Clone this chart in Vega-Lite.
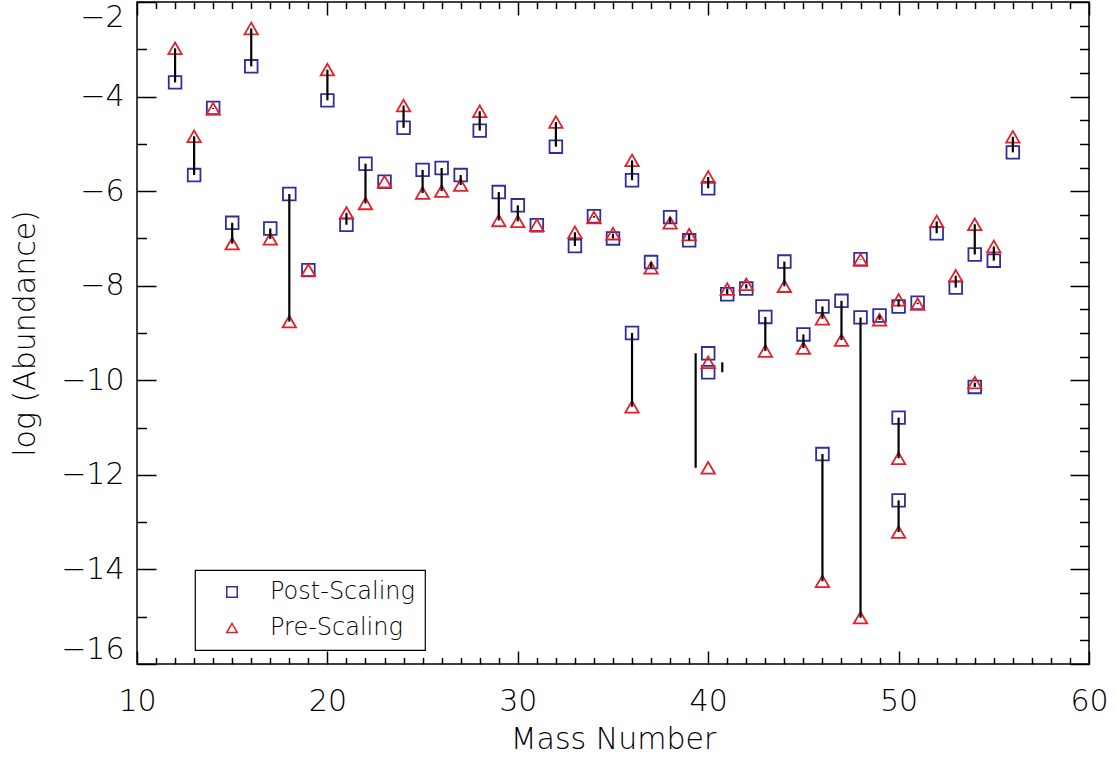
{
  "$schema": "https://vega.github.io/schema/vega-lite/v6.json",
  "width": 952,
  "height": 662,
  "autosize": {"type": "none"},
  "padding": {"left": 137, "top": 2, "right": 27, "bottom": 93},
  "background": "white",
  "config": {
    "view": {"stroke": "black", "strokeWidth": 1.5},
    "axis": {
      "domain": false,
      "grid": false,
      "tickColor": "black",
      "tickWidth": 1.5,
      "labelColor": "black",
      "labelFont": "DejaVu Sans",
      "labelFontSize": 30,
      "labelFontWeight": 200,
      "labelOverlap": false,
      "titleColor": "black",
      "titleFont": "DejaVu Sans",
      "titleFontSize": 30,
      "titleFontWeight": 200
    },
    "legend": {
      "orient": "none",
      "legendX": 58,
      "legendY": 568,
      "direction": "vertical",
      "strokeColor": "black",
      "strokeWidth": 1.2,
      "fillColor": "white",
      "padding": 10,
      "symbolOffset": 15,
      "labelOffset": 26,
      "symbolSize": 110,
      "symbolStrokeWidth": 1.5,
      "symbolFillColor": "transparent",
      "rowPadding": 12,
      "labelFont": "DejaVu Sans",
      "labelFontSize": 24,
      "labelFontWeight": 200,
      "labelColor": "black",
      "labelLimit": 400
    }
  },
  "datasets": {
    "abund": [
      {"A": 12, "post": -3.70, "pre": -2.98, "linkA": 12},
      {"A": 13, "post": -5.66, "pre": -4.84, "linkA": 13},
      {"A": 14, "post": -4.24, "pre": -4.26, "linkA": 14},
      {"A": 15, "post": -6.67, "pre": -7.11, "linkA": 15},
      {"A": 16, "post": -3.36, "pre": -2.56, "linkA": 16},
      {"A": 17, "post": -6.79, "pre": -7.01, "linkA": 17},
      {"A": 18, "post": -6.06, "pre": -8.76, "linkA": 18},
      {"A": 19, "post": -7.67, "pre": -7.67, "linkA": 19},
      {"A": 20, "post": -4.08, "pre": -3.43, "linkA": 20},
      {"A": 21, "post": -6.71, "pre": -6.46, "linkA": 21},
      {"A": 22, "post": -5.42, "pre": -6.26, "linkA": 22},
      {"A": 23, "post": -5.80, "pre": -5.80, "linkA": 23},
      {"A": 24, "post": -4.66, "pre": -4.19, "linkA": 24},
      {"A": 25, "post": -5.55, "pre": -6.04, "linkA": 25},
      {"A": 26, "post": -5.51, "pre": -6.00, "linkA": 26},
      {"A": 27, "post": -5.66, "pre": -5.87, "linkA": 27},
      {"A": 28, "post": -4.72, "pre": -4.31, "linkA": 28},
      {"A": 29, "post": -6.02, "pre": -6.62, "linkA": 29},
      {"A": 30, "post": -6.30, "pre": -6.64, "linkA": 30},
      {"A": 31, "post": -6.72, "pre": -6.72, "linkA": 31},
      {"A": 32, "post": -5.06, "pre": -4.54, "linkA": 32},
      {"A": 33, "post": -7.16, "pre": -6.87, "linkA": 33},
      {"A": 34, "post": -6.53, "pre": -6.56, "linkA": 34},
      {"A": 35, "post": -7.00, "pre": -6.90, "linkA": 35},
      {"A": 36, "post": -5.77, "pre": -5.35, "linkA": 36},
      {"A": 36, "post": -9.00, "pre": -10.56, "linkA": 36},
      {"A": 37, "post": -7.50, "pre": -7.62, "linkA": 37},
      {"A": 38, "post": -6.55, "pre": -6.67, "linkA": 38},
      {"A": 39, "post": -7.04, "pre": -6.92, "linkA": 39},
      {"A": 40, "post": -5.94, "pre": -5.70, "linkA": 40},
      {"A": 40, "post": -9.43, "pre": -11.85, "linkA": 39.34},
      {"A": 40, "post": -9.83, "pre": -9.62, "linkA": 40.74},
      {"A": 41, "post": -8.18, "pre": -8.07, "linkA": 41},
      {"A": 42, "post": -8.06, "pre": -7.97, "linkA": 42},
      {"A": 43, "post": -8.66, "pre": -9.38, "linkA": 43},
      {"A": 44, "post": -7.49, "pre": -8.01, "linkA": 44},
      {"A": 45, "post": -9.03, "pre": -9.32, "linkA": 45},
      {"A": 46, "post": -8.44, "pre": -8.70, "linkA": 46},
      {"A": 46, "post": -11.56, "pre": -14.25, "linkA": 46},
      {"A": 47, "post": -8.32, "pre": -9.15, "linkA": 47},
      {"A": 48, "post": -7.44, "pre": -7.45, "linkA": 48},
      {"A": 48, "post": -8.67, "pre": -15.02, "linkA": 48},
      {"A": 49, "post": -8.63, "pre": -8.72, "linkA": 49},
      {"A": 50, "post": -8.44, "pre": -8.30, "linkA": 50},
      {"A": 50, "post": -10.79, "pre": -11.65, "linkA": 50},
      {"A": 50, "post": -12.54, "pre": -13.21, "linkA": 50},
      {"A": 51, "post": -8.36, "pre": -8.39, "linkA": 51},
      {"A": 52, "post": -6.89, "pre": -6.64, "linkA": 52},
      {"A": 53, "post": -8.04, "pre": -7.79, "linkA": 53},
      {"A": 54, "post": -7.34, "pre": -6.70, "linkA": 54},
      {"A": 54, "post": -10.14, "pre": -10.05, "linkA": 54},
      {"A": 55, "post": -7.47, "pre": -7.17, "linkA": 55},
      {"A": 56, "post": -5.18, "pre": -4.85, "linkA": 56}
    ]
  },
  "data": {"name": "abund"},
  "resolve": {"axis": {"x": "independent", "y": "independent"}},
  "layer": [
    {
      "mark": {"type": "point", "shape": "square", "filled": false, "size": 160, "strokeWidth": 1.8, "opacity": 1},
      "encoding": {
        "x": {
          "field": "A", "type": "quantitative",
          "scale": {"domain": [10, 60], "nice": false, "zero": false},
          "axis": {
            "orient": "bottom",
            "values": [10,11,12,13,14,15,16,17,18,19,20,21,22,23,24,25,26,27,28,29,30,31,32,33,34,35,36,37,38,39,40,41,42,43,44,45,46,47,48,49,50,51,52,53,54,55,56,57,58,59,60],
            "format": "d",
            "labelExpr": "datum.value % 10 === 0 ? datum.label : ''",
            "tickSize": {"condition": {"test": "datum.value % 10 === 0", "value": -13}, "value": -6.6},
            "labelPadding": 35,
            "labelFlush": false,
            "title": "Mass Number",
            "titlePadding": 2
          }
        },
        "y": {
          "field": "post", "type": "quantitative",
          "scale": {"domain": [-16, -2], "nice": false, "zero": false},
          "axis": {
            "orient": "left",
            "values": [-16,-15.5,-15,-14.5,-14,-13.5,-13,-12.5,-12,-11.5,-11,-10.5,-10,-9.5,-9,-8.5,-8,-7.5,-7,-6.5,-6,-5.5,-5,-4.5,-4,-3.5,-3,-2.5,-2],
            "format": "d",
            "labelExpr": "datum.value % 2 === 0 ? datum.label : ''",
            "tickSize": {"condition": {"test": "datum.value % 2 === 0", "value": -19}, "value": -9.5},
            "labelPadding": 32,
            "labelFlush": true,
            "title": "log (Abundance)",
            "titlePadding": 20
          }
        },
        "color": {"datum": "Post-Scaling", "type": "nominal", "scale": {"domain": ["Post-Scaling", "Pre-Scaling"], "range": ["#2e2e9c", "#e0202a"]}, "legend": {"title": null}},
        "shape": {"datum": "Post-Scaling", "type": "nominal", "scale": {"domain": ["Post-Scaling", "Pre-Scaling"], "range": ["square", "triangle-up"]}, "legend": {"title": null}}
      }
    },
    {
      "mark": {"type": "point", "filled": false, "size": 180, "strokeWidth": 1.8, "opacity": 1},
      "encoding": {
        "x": {
          "field": "A", "type": "quantitative",
          "scale": {"domain": [10, 60], "nice": false, "zero": false},
          "axis": {
            "orient": "top",
            "values": [10,11,12,13,14,15,16,17,18,19,20,21,22,23,24,25,26,27,28,29,30,31,32,33,34,35,36,37,38,39,40,41,42,43,44,45,46,47,48,49,50,51,52,53,54,55,56,57,58,59,60],
            "labels": false,
            "tickSize": {"condition": {"test": "datum.value % 10 === 0", "value": -13}, "value": -6.6},
            "title": null
          }
        },
        "y": {
          "field": "pre", "type": "quantitative",
          "scale": {"domain": [-16, -2], "nice": false, "zero": false},
          "axis": {
            "orient": "right",
            "values": [-16,-15.5,-15,-14.5,-14,-13.5,-13,-12.5,-12,-11.5,-11,-10.5,-10,-9.5,-9,-8.5,-8,-7.5,-7,-6.5,-6,-5.5,-5,-4.5,-4,-3.5,-3,-2.5,-2],
            "labels": false,
            "tickSize": {"condition": {"test": "datum.value % 2 === 0", "value": -19}, "value": -9.5},
            "title": null
          }
        },
        "color": {"datum": "Pre-Scaling", "type": "nominal", "legend": {"title": null}},
        "shape": {"datum": "Pre-Scaling", "type": "nominal", "legend": {"title": null}}
      }
    },
    {
      "mark": {"type": "rule", "color": "black", "strokeWidth": 2.2},
      "encoding": {
        "x": {"field": "linkA", "type": "quantitative", "axis": null},
        "y": {"field": "post", "type": "quantitative", "axis": null},
        "y2": {"field": "pre"}
      }
    }
  ]
}
